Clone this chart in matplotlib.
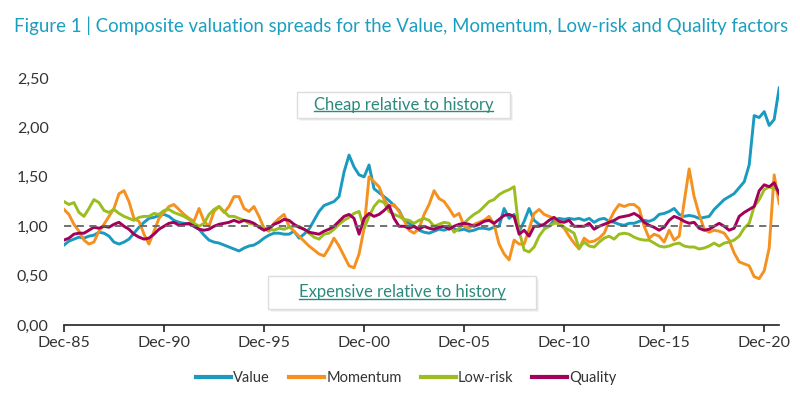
import pandas as pd
import matplotlib
matplotlib.use("Agg")
import matplotlib.pyplot as plt
import matplotlib.patches as mpatches
from matplotlib.lines import Line2D

# ── Data (quarterly) ──────────────────────────────────────────────────────────
value = [
    0.81, 0.85, 0.87, 0.89, 0.88, 0.90, 0.91, 0.94, 0.93, 0.90,
    0.84, 0.82, 0.84, 0.87, 0.93, 0.99, 1.04, 1.08, 1.09, 1.11,
    1.12, 1.10, 1.06, 1.04, 1.03, 1.02, 1.00, 0.97, 0.91, 0.86,
    0.84, 0.83, 0.81, 0.79, 0.77, 0.75, 0.78, 0.80, 0.81, 0.84,
    0.88, 0.91, 0.93, 0.93, 0.92, 0.92, 0.95, 0.88, 0.92, 0.97,
    1.06, 1.15, 1.21, 1.23, 1.25, 1.30, 1.55, 1.72, 1.60, 1.52,
    1.50, 1.62, 1.38, 1.34, 1.30, 1.26, 1.21, 1.16, 1.06, 1.03,
    1.00, 0.96, 0.94, 0.93, 0.95, 0.97, 0.96, 0.98, 0.97, 0.96,
    0.97, 0.95, 0.96, 0.98, 0.98, 0.97, 0.99, 1.00, 1.18, 1.08,
    1.12, 0.95, 1.05, 1.18, 1.06, 1.02, 1.00, 1.00, 1.06, 1.08,
    1.07, 1.08, 1.07, 1.08, 1.06, 1.08, 1.04, 1.07, 1.08, 1.05,
    1.04, 1.02, 1.01, 1.03, 1.03, 1.05, 1.06, 1.05, 1.07, 1.12,
    1.13, 1.15, 1.18, 1.12, 1.10, 1.11, 1.10, 1.08, 1.09, 1.10,
    1.17, 1.22, 1.27, 1.30, 1.33, 1.39, 1.45, 1.62, 2.12, 2.10,
    2.16, 2.02, 2.08, 2.40,
]
momentum = [
    1.17, 1.12, 1.02, 0.95, 0.86, 0.82, 0.84, 0.95, 1.02, 1.10,
    1.18, 1.33, 1.36, 1.25, 1.08, 1.05, 0.92, 0.82, 0.95, 1.08,
    1.14, 1.20, 1.22, 1.17, 1.12, 1.08, 1.05, 1.18, 1.05, 1.00,
    1.15, 1.20, 1.14, 1.20, 1.30, 1.30, 1.18, 1.15, 1.20, 1.10,
    0.98, 0.95, 1.03, 1.08, 1.12, 1.00, 0.95, 0.90, 0.85, 0.80,
    0.76, 0.72, 0.70, 0.78, 0.88, 0.80, 0.70, 0.60, 0.58, 0.72,
    0.98, 1.50, 1.45, 1.40, 1.27, 1.20, 1.22, 1.15, 1.06, 0.96,
    0.93, 0.98, 1.12, 1.22, 1.36, 1.28, 1.25, 1.18, 1.10, 1.13,
    1.00, 0.98, 1.02, 1.04, 1.06, 1.10, 1.02, 0.82, 0.72, 0.66,
    0.86, 0.82, 0.82, 0.97, 1.13, 1.17, 1.12, 1.10, 1.08, 1.02,
    0.98, 0.90, 0.83, 0.77, 0.88, 0.84, 0.85, 0.88, 0.93, 1.05,
    1.15, 1.22, 1.20, 1.22, 1.22, 1.18, 1.00, 0.88, 0.92, 0.90,
    0.84, 0.96, 0.86, 0.90, 1.25, 1.58, 1.30, 1.12, 0.97, 0.94,
    0.96, 0.95, 0.93, 0.86, 0.73, 0.64, 0.62, 0.60, 0.49, 0.47,
    0.55, 0.78, 1.52, 1.23,
]
low_risk = [
    1.25, 1.22, 1.24, 1.14, 1.10, 1.18, 1.27, 1.24, 1.16, 1.14,
    1.17, 1.13, 1.10, 1.08, 1.06, 1.09, 1.10, 1.10, 1.13, 1.12,
    1.16, 1.17, 1.14, 1.12, 1.10, 1.07, 1.03, 1.00, 1.03, 1.12,
    1.17, 1.20, 1.15, 1.10, 1.10, 1.08, 1.06, 1.03, 1.02, 1.00,
    0.98, 0.97, 0.96, 0.98, 0.97, 0.99, 1.00, 1.00, 0.97, 0.93,
    0.89, 0.87, 0.92, 0.93, 0.97, 1.02, 1.06, 1.09, 1.13, 1.15,
    0.98, 1.10, 1.20, 1.26, 1.24, 1.15, 1.12, 1.10, 1.07, 1.06,
    1.03, 1.06, 1.08, 1.06, 1.00, 1.02, 1.04, 1.03, 0.94, 0.98,
    1.03, 1.08, 1.12, 1.15, 1.20, 1.25, 1.27, 1.32, 1.35, 1.37,
    1.40, 0.95, 0.76, 0.74, 0.79, 0.90, 0.97, 1.00, 1.03, 1.03,
    0.99, 0.96, 0.93, 0.78, 0.84, 0.80, 0.79, 0.84, 0.88, 0.90,
    0.87, 0.92, 0.93, 0.92, 0.89, 0.87, 0.86, 0.86, 0.83, 0.80,
    0.79, 0.80, 0.82, 0.83, 0.80, 0.79, 0.79, 0.77, 0.78, 0.80,
    0.83, 0.80, 0.83, 0.84, 0.86, 0.90, 0.98, 1.03, 1.20, 1.27,
    1.37, 1.40, 1.38, 1.36,
]
quality = [
    0.86, 0.88, 0.92, 0.93, 0.93, 0.96, 0.99, 0.98, 1.00, 0.99,
    1.02, 1.04, 1.00, 0.97, 0.92, 0.89, 0.87, 0.88, 0.92, 0.97,
    1.00, 1.03, 1.04, 1.01, 1.02, 1.03, 1.00, 0.97, 0.96, 0.97,
    1.00, 1.02, 1.03, 1.04, 1.06, 1.04, 1.06, 1.05, 1.03, 0.99,
    0.96, 0.98, 1.02, 1.04, 1.07, 1.06, 1.02, 0.99, 0.97, 0.94,
    0.93, 0.92, 0.95, 0.97, 1.00, 1.05, 1.10, 1.12, 1.08, 0.92,
    1.08, 1.13, 1.10, 1.12, 1.16, 1.21, 1.08, 1.00, 1.00, 0.98,
    1.00, 0.97, 1.00, 0.98, 0.97, 0.99, 1.00, 0.97, 1.00, 1.02,
    1.03, 1.02, 1.00, 1.02, 1.05, 1.06, 1.03, 1.07, 1.11, 1.12,
    1.10, 0.92, 0.96, 0.90, 1.00, 1.00, 1.02, 1.06, 1.09, 1.05,
    1.04, 1.06, 1.00, 1.00, 1.00, 1.03, 0.97, 1.00, 1.02, 1.04,
    1.06, 1.09, 1.10, 1.11, 1.13, 1.10, 1.04, 1.01, 0.99, 0.96,
    0.99, 1.06, 1.10, 1.08, 1.05, 1.03, 1.04, 0.98, 0.96, 0.97,
    1.00, 1.03, 1.00, 0.96, 0.98, 1.10, 1.14, 1.17, 1.20, 1.36,
    1.42, 1.40, 1.44, 1.33,
]
series_names = ["Value", "Momentum", "Low-risk", "Quality"]
tick_years = [1985, 1990, 1995, 2000, 2005, 2010, 2015, 2020]
y_ticks = [0.0, 0.5, 1.0, 1.5, 2.0, 2.5]

dates = pd.date_range("1985-12-31", periods=len(value), freq="QE")

# ── Style ─────────────────────────────────────────────────────────────────────
plt.rcParams["font.family"] = ["Lato", "DejaVu Sans"]

colors = {
    "Value": "#1b9ac0",
    "Momentum": "#f5911e",
    "Low-risk": "#9bbd1f",
    "Quality": "#a3005b",
}
title_col = "#1a9fc0"
note_col = "#2b8a7c"

fig = plt.figure(figsize=(8, 3.96), dpi=100)
ax = fig.add_axes([0.08, 0.179, 0.894, 0.624])

for name, vals in zip(series_names, [value, momentum, low_risk, quality]):
    ax.plot(dates, vals, color=colors[name], linewidth=2.1, label=name,
            solid_joinstyle="round")

ax.axhline(1.0, color="#666666", linestyle=(0, (4, 3)), linewidth=1.3, zorder=5)

ax.set_ylim(0, 2.5)
ax.set_xlim(dates[0], dates[-1])
ax.set_yticks(y_ticks)
ax.set_yticklabels([f"{v:.2f}".replace(".", ",") for v in y_ticks])
ticks = [pd.Timestamp(f"{y}-12-31") for y in tick_years]
ax.set_xticks(ticks)
ax.set_xticklabels([f"Dec-{str(y)[2:]}" for y in tick_years])

for s in ["left", "right", "top"]:
    ax.spines[s].set_visible(False)
ax.spines["bottom"].set_color("#222222")
ax.spines["bottom"].set_linewidth(1.2)
ax.tick_params(axis="y", length=0, pad=11, labelsize=11.5, labelcolor="#333333")
ax.tick_params(axis="x", length=5, width=1.2, pad=3, labelsize=11.5,
               labelcolor="#333333", color="#222222")

title = fig.text(0.018, 0.935, "Figure 1 | Composite valuation spreads for the Value, "
                 "Momentum, Low-risk and Quality factors", color=title_col,
                 fontsize=15, ha="left", va="center")

# -- annotation boxes (figure pixel layout) --
def note_box(x0, y0, w, h, text):
    W, H = 800, 396
    for off, a in [(3, 0.10), (2, 0.12)]:
        fig.add_artist(mpatches.Rectangle(((x0 + off) / W, 1 - (y0 + h + off) / H),
                                          w / W, h / H, transform=fig.transFigure,
                                          facecolor="#999999", alpha=a, edgecolor="none"))
    fig.add_artist(mpatches.Rectangle((x0 / W, 1 - (y0 + h) / H), w / W, h / H,
                                      transform=fig.transFigure, facecolor="white",
                                      edgecolor="#dddddd", linewidth=1.0))
    t = fig.text((x0 + w / 2) / W, 1 - (y0 + h / 2) / H, text, color=note_col,
                 fontsize=12, ha="center", va="center")
    return t

t1 = note_box(297, 92, 213, 26, "Cheap relative to history")
t2 = note_box(268, 276, 268, 33, "Expensive relative to history")

# fit the title into the width the reference uses
fig.canvas.draw()
r = fig.canvas.get_renderer()
w_px = title.get_window_extent(r).width
title.set_fontsize(15 * 778 / w_px)

# underline the notes
for t in (t1, t2):
    bb = t.get_window_extent(r).transformed(fig.transFigure.inverted())
    fig.add_artist(Line2D([bb.x0, bb.x1], [bb.y0 + 0.004, bb.y0 + 0.004],
                          transform=fig.transFigure, color=note_col, linewidth=1.0))

handles = [Line2D([], [], color=colors[n], linewidth=3) for n in series_names]
fig.legend(handles, series_names, loc="center", bbox_to_anchor=(0.508, 0.045),
           ncol=4, frameon=False, fontsize=10.5, handlelength=2.4,
           handletextpad=0.15, columnspacing=1.3, labelcolor="#333333")

fig.savefig("out.png", dpi=100)
